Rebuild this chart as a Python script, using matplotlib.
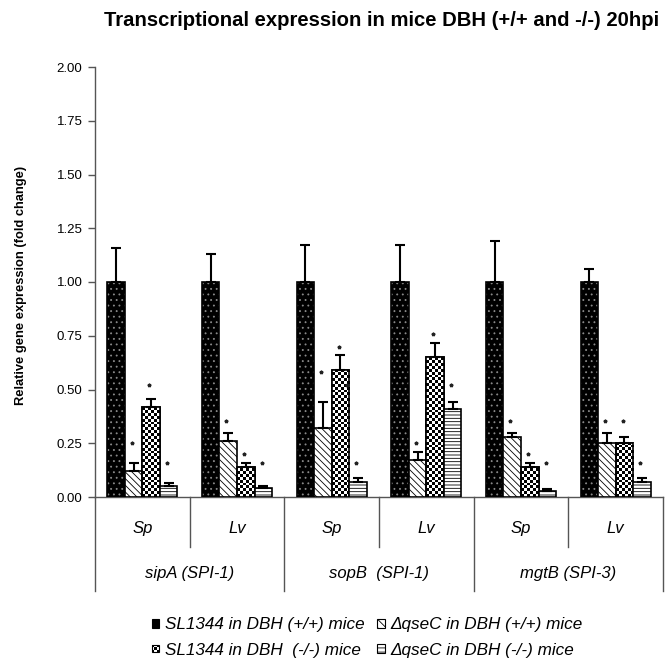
import numpy as np
import matplotlib
matplotlib.use("Agg")
import matplotlib.pyplot as plt
import matplotlib.transforms as mtransforms
from matplotlib.patches import Rectangle, Patch
from matplotlib.legend_handler import HandlerBase

plt.rcParams['font.family'] = ['Liberation Sans', 'DejaVu Sans']
plt.rcParams['hatch.linewidth'] = 0.6

# Data
tissues = ['Sp', 'Lv', 'Sp', 'Lv', 'Sp', 'Lv']
genes = ['sipA (SPI-1)', 'sopB  (SPI-1)', 'mgtB (SPI-3)']
series = ['SL1344 in DBH (+/+) mice', 'ΔqseC in DBH (+/+) mice',
          'SL1344 in DBH  (-/-) mice', 'ΔqseC in DBH (-/-) mice']

wt_pos = [1.00, 1.00, 1.00, 1.00, 1.00, 1.00]
wt_pos_err = [0.16, 0.13, 0.17, 0.17, 0.19, 0.06]
qsec_pos = [0.12, 0.26, 0.32, 0.17, 0.28, 0.25]
qsec_pos_err = [0.04, 0.04, 0.12, 0.04, 0.02, 0.05]
wt_neg = [0.42, 0.14, 0.59, 0.65, 0.14, 0.25]
wt_neg_err = [0.035, 0.02, 0.07, 0.065, 0.02, 0.03]
qsec_neg = [0.05, 0.04, 0.07, 0.41, 0.03, 0.07]
qsec_neg_err = [0.015, 0.01, 0.02, 0.03, 0.005, 0.02]

# significance marks (height of the asterisk above each bar)
star_qsec_pos = [0.25, 0.355, 0.58, 0.25, 0.355, 0.355]
star_wt_neg = [0.52, 0.20, 0.70, 0.76, 0.20, 0.355]
star_qsec_neg = [0.157, 0.157, 0.157, 0.52, 0.157, 0.157]
extra_star = (2, 0.52)  # second mark beside the sopB Sp (-/-) bar

fig = plt.figure(figsize=(6.69, 6.72), dpi=100)
ax = fig.add_axes([95 / 669, 175 / 672, 568 / 669, 430 / 672])

x = np.arange(len(tissues))
w = 0.185
offs = (np.arange(4) - 1.5) * w
lw = 1.2

# SL1344 (+/+): black with grey dots
ax.bar(x + offs[0], wt_pos, w, color='black', hatch='...', edgecolor='#8a8a8a', linewidth=0, zorder=2)
ax.bar(x + offs[0], wt_pos, w, fill=False, edgecolor='black', linewidth=lw, zorder=3)

# qseC (+/+): diagonal lines
ax.bar(x + offs[1], qsec_pos, w, facecolor='white', edgecolor='black', hatch='\\' * 5, linewidth=lw, zorder=3)

# SL1344 (-/-): checkerboard
chk = ax.bar(x + offs[2], wt_neg, w, facecolor='white', edgecolor='black', linewidth=lw, zorder=2)
px_per_unit = 430 / 2.0
cell = 2.9
for bar in chk.patches:
    x0 = bar.get_x()
    h = bar.get_height()
    ny = max(1, int(round(h * px_per_unit / cell)))
    arr = np.add.outer(np.arange(ny), np.arange(6)) % 2
    im = ax.imshow(arr, cmap='gray', extent=[x0, x0 + w, 0, ny * cell / px_per_unit],
                   origin='lower', interpolation='nearest', aspect='auto', zorder=2.5)
    im.set_clip_path(bar)
ax.bar(x + offs[2], wt_neg, w, fill=False, edgecolor='black', linewidth=lw, zorder=3)

# qseC (-/-): horizontal lines
ax.bar(x + offs[3], qsec_neg, w, facecolor='white', edgecolor='black', hatch='-----', linewidth=lw, zorder=3)

# upper error bars
for k, (vals, errs) in enumerate([(wt_pos, wt_pos_err), (qsec_pos, qsec_pos_err),
                                   (wt_neg, wt_neg_err), (qsec_neg, qsec_neg_err)]):
    ax.errorbar(x + offs[k], vals, yerr=[np.zeros(len(errs)), errs], fmt='none',
                ecolor='black', elinewidth=1.5, capsize=3.5, capthick=1.5, zorder=4)

# asterisks
for k, stars in [(1, star_qsec_pos), (2, star_wt_neg), (3, star_qsec_neg)]:
    ax.plot(x + offs[k] - 0.1 * w, stars, ls='none', marker='*', ms=2.6, color='#222222', zorder=5)
ax.plot([x[extra_star[0]] + offs[2] + 0.35 * w], [extra_star[1]], ls='none', marker='*', ms=2.6,
        color='#222222', zorder=5)

ax.set_xlim(-0.5, 5.5)
ax.set_ylim(0, 2)
ax.set_yticks(np.arange(0, 2.01, 0.25))
ax.set_yticklabels([f'{v:.2f}' for v in np.arange(0, 2.01, 0.25)], fontsize=9.5)
ax.tick_params(axis='y', direction='out', length=5, width=1, color='#555555', pad=4)
ax.set_xticks([])
for s in ['top', 'right']:
    ax.spines[s].set_visible(False)
for s in ['left', 'bottom']:
    ax.spines[s].set_color('#555555')
    ax.spines[s].set_linewidth(1)

# category axis below the plot
trans = mtransforms.blended_transform_factory(ax.transData, ax.transAxes)
for xv in [0.5, 2.5, 4.5]:
    ax.plot([xv, xv], [0, -0.116], transform=trans, clip_on=False, color='#555555', lw=1)
for xv in [-0.5, 1.5, 3.5, 5.5]:
    ax.plot([xv, xv], [0, -0.219], transform=trans, clip_on=False, color='#555555', lw=1)
for xi, t in zip(x, tissues):
    ax.text(xi, -0.074, t, transform=trans, ha='center', va='center', style='italic', fontsize=12)
for gi, g in enumerate(genes):
    ax.text(2 * gi + 0.5, -0.179, g, transform=trans, ha='center', va='center', style='italic', fontsize=12)

fig.text(382 / 669, 1 - 20 / 672, 'Transcriptional expression in mice DBH (+/+ and -/-) 20hpi',
         ha='center', va='center', fontsize=14.6, fontweight='bold')
fig.text(21 / 669, 1 - 285 / 672, 'Relative gene expression (fold change)', rotation=90,
         ha='center', va='center', fontsize=9.3, fontweight='bold')


class CheckerHandler(HandlerBase):
    def create_artists(self, legend, orig_handle, xdescent, ydescent, width, height, fontsize, trans):
        s = min(width, height)
        x0 = -xdescent + (width - s) / 2
        y0 = -ydescent + (height - s) / 2
        arts = [Rectangle((x0, y0), s, s, facecolor='white', edgecolor='black', lw=0.8, transform=trans)]
        n = 3
        c = s / n
        for i in range(n):
            for j in range(n):
                if (i + j) % 2 == 0:
                    arts.append(Rectangle((x0 + i * c, y0 + j * c), c, c, facecolor='black', lw=0,
                                          transform=trans))
        return arts


h0 = Patch(facecolor='black', edgecolor='black', lw=0.8)
h1 = Patch(facecolor='white', edgecolor='black', hatch='\\' * 4, lw=0.8)
h2 = Patch(facecolor='white', edgecolor='black', lw=0.8)
h3 = Patch(facecolor='white', edgecolor='black', hatch='----', lw=0.8)
fig.legend(handles=[h0, h2, h1, h3], labels=[series[0], series[2], series[1], series[3]],
           ncol=2, loc='center', bbox_to_anchor=(0.549, 1 - 637.5 / 672), frameon=False,
           prop=dict(style='italic', size=12.3), handlelength=0.45, handleheight=0.45,
           handletextpad=0.35, columnspacing=0.7, labelspacing=0.6, borderpad=0,
           handler_map={h2: CheckerHandler()})

fig.savefig('out.png', dpi=100)
